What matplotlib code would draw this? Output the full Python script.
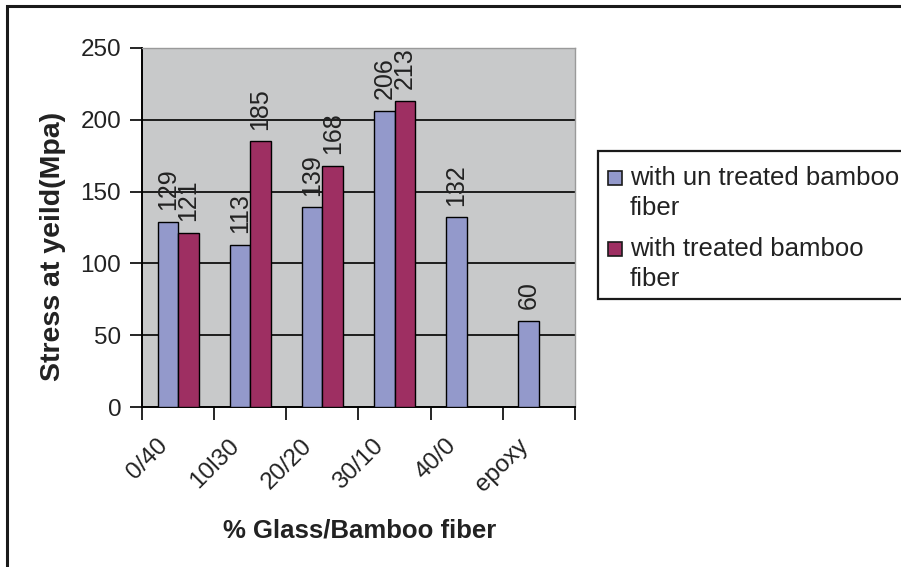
import matplotlib
matplotlib.use("Agg")
import matplotlib.pyplot as plt
import matplotlib.transforms as mtransforms
import numpy as np
from matplotlib.patches import Rectangle

plt.rcParams['font.family'] = ['Liberation Sans', 'DejaVu Sans']

categories = ["0/40", "10l30", "20/20", "30/10", "40/0", "epoxy"]
untreated = [129, 113, 139, 206, 132, 60]
treated = [121, 185, 168, 213, None, None]
series_names = ["with un treated bamboo\nfiber", "with treated bamboo\nfiber"]
yticks = [0, 50, 100, 150, 200, 250]

BLUE = '#9399CB'
MAROON = '#9E2F62'
BG = '#C8C9CA'
FS = 17.5
TXT = '#222222'

W, H = 901, 567
fig = plt.figure(figsize=(W / 100, H / 100), dpi=100)

def fx(px):
    return px / W

def fy(py):
    return 1 - py / H

ax = fig.add_axes([fx(142), fy(407), fx(575) - fx(142), fy(48) - fy(407)])
ax.set_facecolor(BG)

x = np.arange(len(categories))
w = 0.285
for i, v in enumerate(untreated):
    ax.bar(x[i] - w / 2, v, w, color=BLUE, edgecolor='black', linewidth=1.0, zorder=3)
    ax.annotate(str(v), (x[i] - w / 2, v), xytext=(0, 8.5), textcoords='offset points',
                rotation=90, ha='center', va='bottom', fontsize=18, color=TXT, zorder=4)
for i, v in enumerate(treated):
    if v is None:
        continue
    ax.bar(x[i] + w / 2, v, w, color=MAROON, edgecolor='black', linewidth=1.0, zorder=3)
    ax.annotate(str(v), (x[i] + w / 2, v), xytext=(0, 8.5), textcoords='offset points',
                rotation=90, ha='center', va='bottom', fontsize=18, color=TXT, zorder=4)

ax.set_xlim(-0.5, len(categories) - 0.5)
ax.set_ylim(0, 250)
ax.set_yticks(yticks)
ax.set_yticklabels([str(t) for t in yticks], fontsize=FS, color=TXT)
ax.tick_params(axis='y', direction='out', length=9, width=1.2, pad=6, color='black')
for t in yticks[1:-1]:
    ax.axhline(t, color='black', linewidth=1.2, zorder=1)

ax.set_xticks(x)
ax.set_xticklabels(categories, fontsize=FS, rotation=45, ha='right', va='top',
                   rotation_mode='anchor', color=TXT)
ax.tick_params(axis='x', which='major', length=0, pad=20)
shift = mtransforms.ScaledTranslation(-22 / 100, 0, fig.dpi_scale_trans)
for lab in ax.get_xticklabels():
    lab.set_transform(lab.get_transform() + shift)
ax.set_xticks(np.arange(-0.5, len(categories), 1.0), minor=True)
ax.tick_params(axis='x', which='minor', direction='out', length=9, width=1.2, color='black')

for s in ['left', 'bottom']:
    ax.spines[s].set_color('black')
    ax.spines[s].set_linewidth(1.4)
for s in ['top', 'right']:
    ax.spines[s].set_color('#9a9a9a')
    ax.spines[s].set_linewidth(1.0)

fig.text(fx(53), fy(246), "Stress at yeild(Mpa)", rotation=90, ha='center', va='center',
         fontsize=20.5, fontweight='bold', color=TXT)
fig.text(fx(360), fy(537), "% Glass/Bamboo fiber", ha='center', va='baseline',
         fontsize=18.5, fontweight='bold', color=TXT)

# outer chart border
fig.add_artist(Rectangle((fx(7), fy(600)), fx(950), fy(6) - fy(600), transform=fig.transFigure,
                         facecolor='none', edgecolor='#1a1a1a', linewidth=2.2, clip_on=False))

# legend
fig.add_artist(Rectangle((fx(598), fy(299)), fx(330), fy(151) - fy(299), transform=fig.transFigure,
                         facecolor='white', edgecolor='#1a1a1a', linewidth=1.6, clip_on=False))
colors = [BLUE, MAROON]
handle_cy = [178, 249]
baselines = [185, 256]
for k in range(2):
    fig.add_artist(Rectangle((fx(608), fy(handle_cy[k] + 7)), fx(14), fy(handle_cy[k] - 7) - fy(handle_cy[k] + 7),
                             transform=fig.transFigure, facecolor=colors[k], edgecolor='#1a1a1a', linewidth=1.2))
    lines = series_names[k].split("\n")
    for j, ln in enumerate(lines):
        fig.text(fx(630), fy(baselines[k] + 30 * j), ln, ha='left', va='baseline',
                 fontsize=18.5, color=TXT)

fig.savefig("out.png", dpi=100)
